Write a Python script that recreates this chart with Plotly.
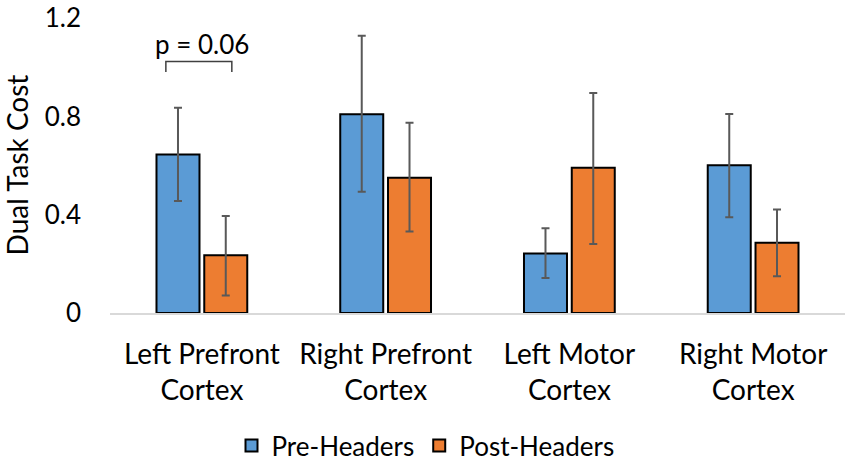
import plotly.graph_objects as go

# values
regions = ["Left Prefront<br>Cortex", "Right Prefront<br>Cortex",
           "Left Motor<br>Cortex", "Right Motor<br>Cortex"]
pre_mean = [0.645, 0.809, 0.242, 0.601]
pre_err_up = [0.191, 0.320, 0.103, 0.209]
pre_err_down = [0.189, 0.315, 0.100, 0.211]
post_mean = [0.235, 0.551, 0.591, 0.286]
post_err_up = [0.160, 0.223, 0.305, 0.135]
post_err_down = [0.164, 0.219, 0.310, 0.136]
y_ticks = [0, 0.4, 0.8, 1.2]
y_tick_text = ["0", "0.4", "0.8", "1.2"]

FONT = "Lato, 'Open Sans', sans-serif"
err_style = dict(type="data", symmetric=False, color="#595959", thickness=2, width=4)

fig = go.Figure()
fig.add_trace(go.Bar(
    name="Pre-Headers", x=regions, y=pre_mean,
    marker=dict(color="#5B9BD5", line=dict(color="black", width=2)),
    error_y=dict(array=pre_err_up, arrayminus=pre_err_down, **err_style),
))
fig.add_trace(go.Bar(
    name="Post-Headers", x=regions, y=post_mean,
    marker=dict(color="#ED7D31", line=dict(color="black", width=2)),
    error_y=dict(array=post_err_up, arrayminus=post_err_down, **err_style),
))

# significance bracket over the first group
fig.add_shape(type="path", xref="x", yref="y",
              path="M -0.196,0.981 L -0.196,1.024 L 0.163,1.024 L 0.163,0.981",
              line=dict(color="#404040", width=1.5))
fig.add_annotation(x=0, y=1.094, xref="x", yref="y", text="p = 0.06",
                   showarrow=False, font=dict(size=26, color="black", family=FONT))

fig.update_layout(
    width=851, height=469,
    margin=dict(l=110, r=6, t=17, b=156, autoexpand=False),
    plot_bgcolor="white", paper_bgcolor="white",
    barmode="group", bargap=0.48, bargroupgap=0.1,
    font=dict(family=FONT, size=28, color="black"),
    showlegend=True,
    legend=dict(orientation="h", xref="container", x=0.5, xanchor="center",
                yref="container", y=0.0, yanchor="bottom",
                font=dict(size=26), itemwidth=30, traceorder="normal"),
    xaxis=dict(showline=True, linecolor="#d9d9d9", linewidth=2,
               ticks="", tickfont=dict(size=28), ticklabelstandoff=15),
    yaxis=dict(range=[0, 1.205], tickvals=y_ticks, ticktext=y_tick_text,
               showgrid=False, zeroline=False, showline=False,
               tickfont=dict(size=26), ticklabelstandoff=28,
               ticklabeloverflow="allow",
               title=dict(text="Dual Task Cost", font=dict(size=28), standoff=10)),
)

# drop the default page margin so the figure sits at the window's corner
fig.write_html("out.html", config={"displayModeBar": False},
               post_script="document.body.style.margin='0px';")
